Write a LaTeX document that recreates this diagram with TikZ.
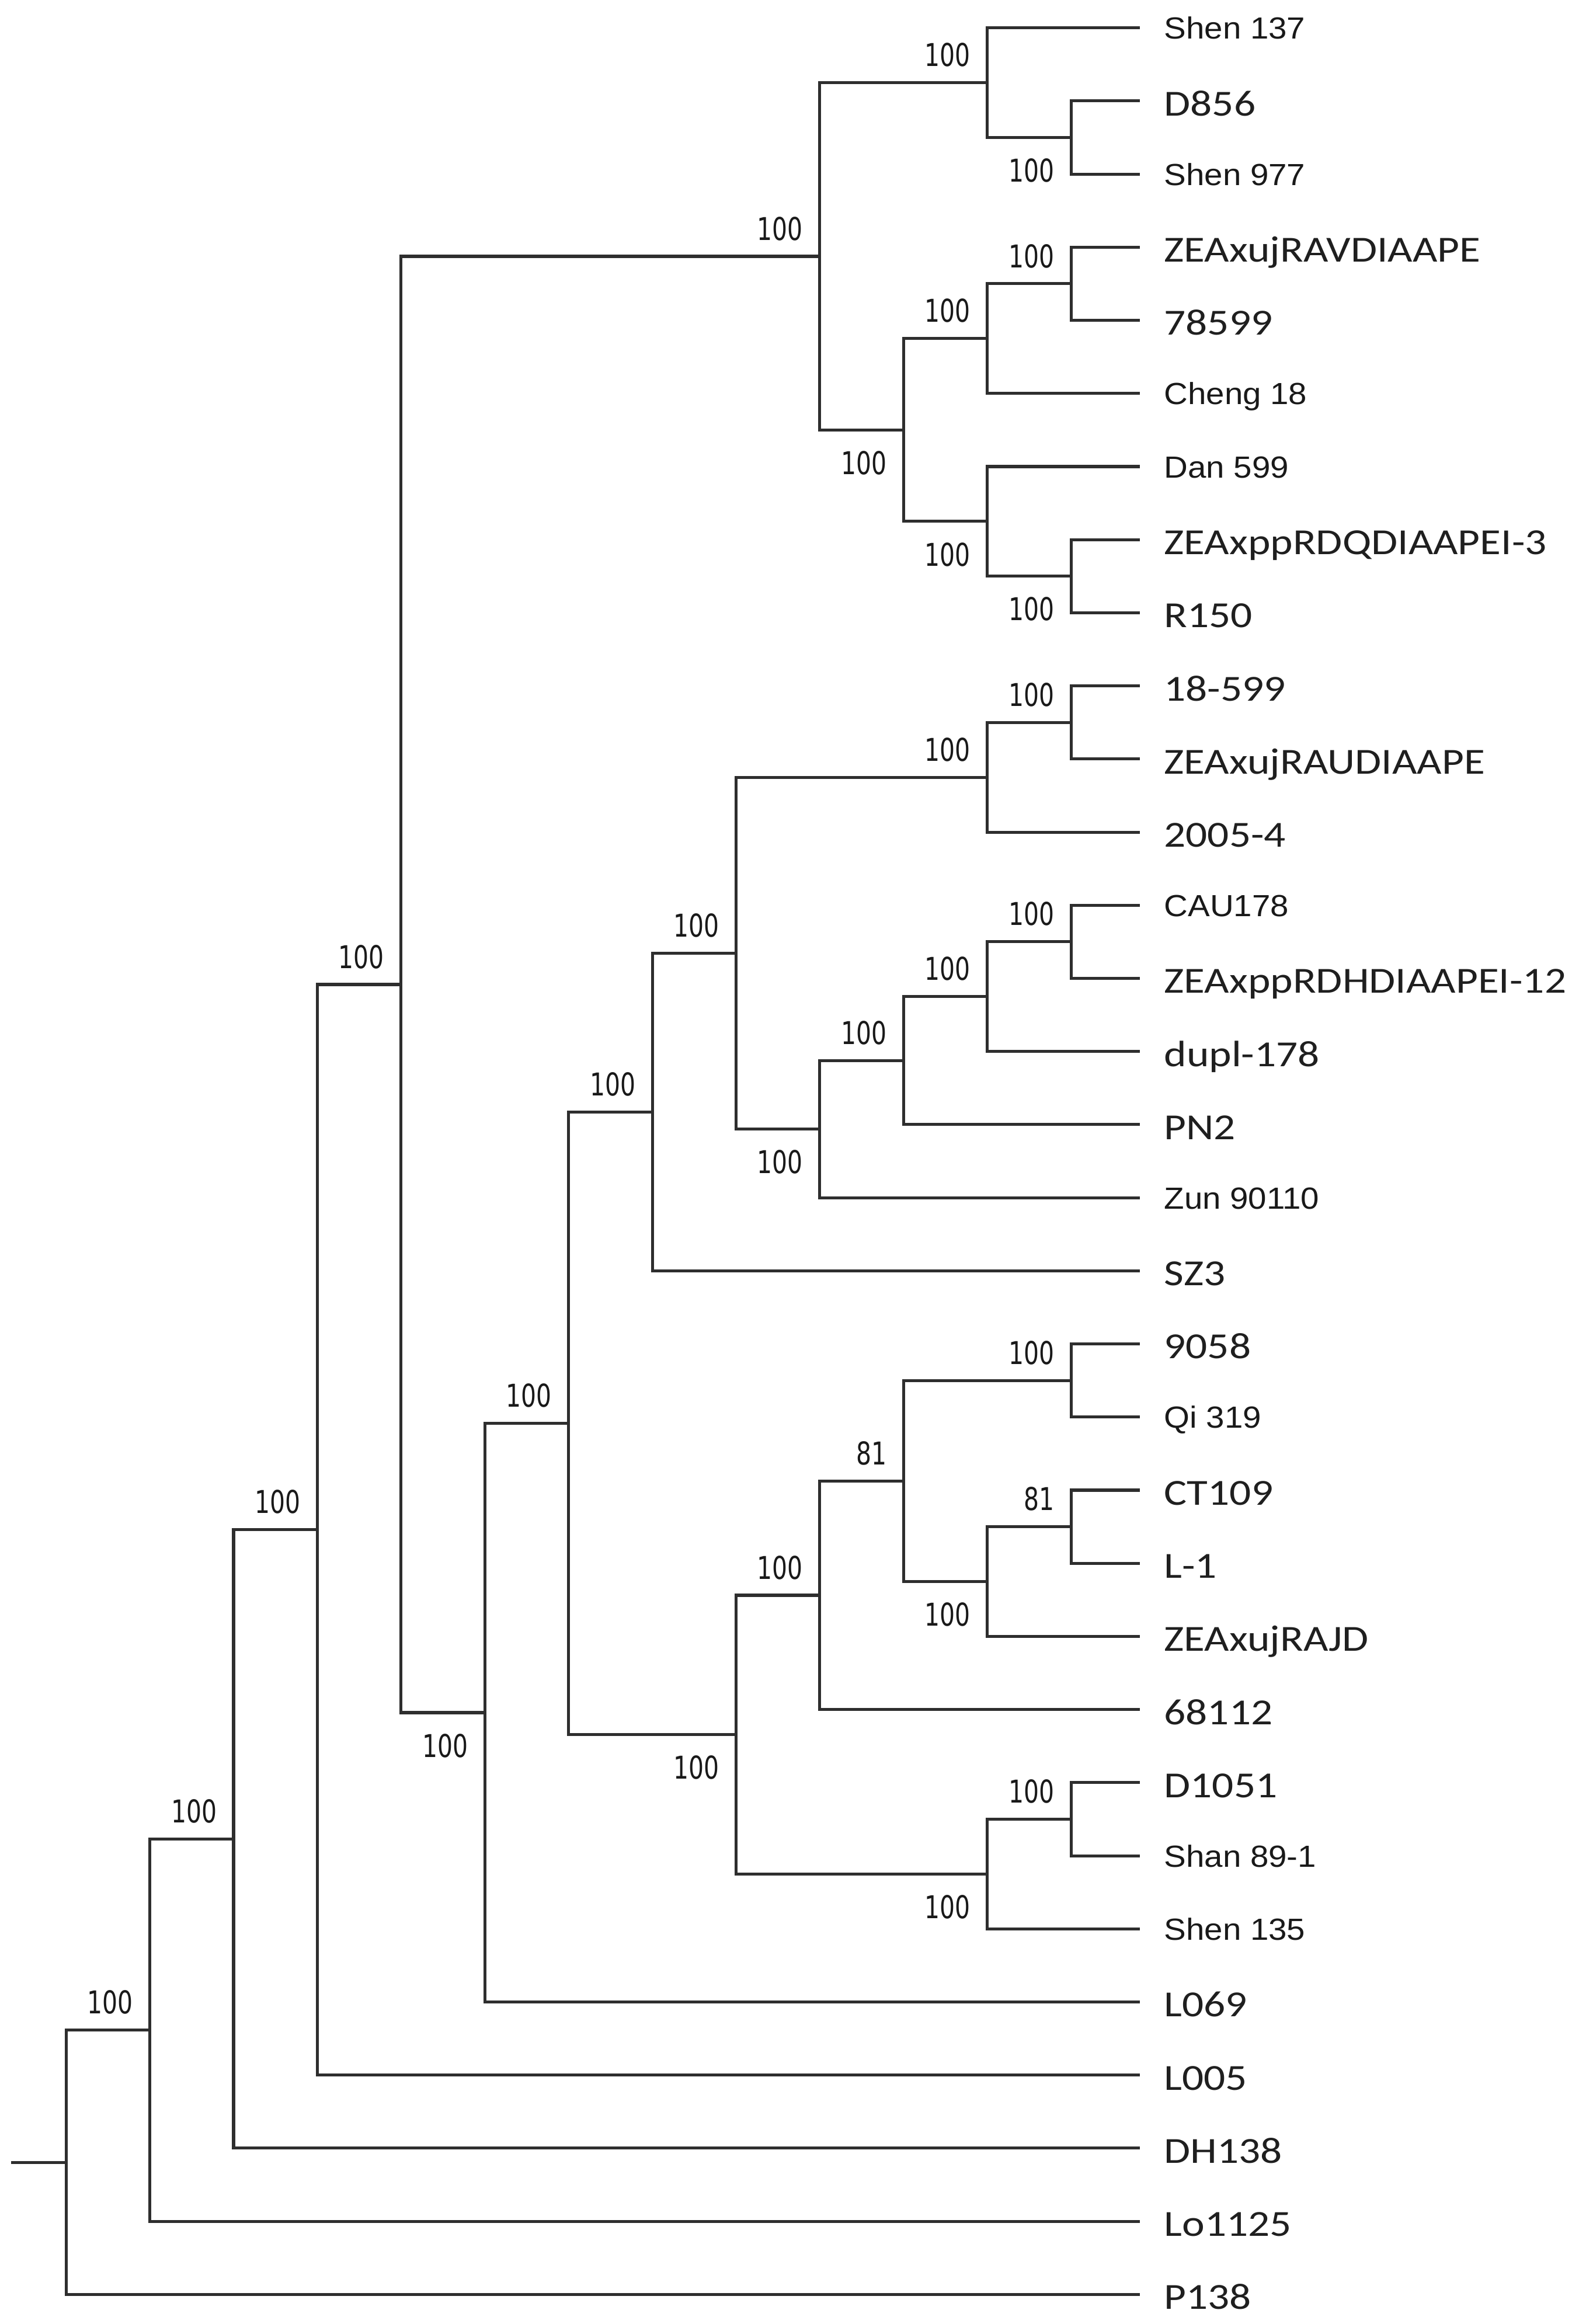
\documentclass[tikz,border=0pt]{standalone}
\usepackage{fontspec}
\newfontfamily\arialf[FakeStretch=1.08]{Liberation Sans}
\newfontfamily\calf[FakeStretch=1.165]{Carlito}
\newfontfamily\bsf[FakeStretch=0.76]{DejaVu Sans}
\begin{document}
\begin{tikzpicture}[x=0.5pt,y=-0.5pt,
  branch/.style={line width=1pt, draw=black!82, line join=miter},
  leafA/.style={anchor=base west, inner sep=0pt, text=black!90, font=\arialf\fontsize{10.3}{12}\selectfont},
  leafC/.style={anchor=base west, inner sep=0pt, text=black!88, font=\calf\fontsize{12.4}{14}\selectfont},
  bs/.style={anchor=base east, inner sep=0pt, text=black!90, font=\bsf\fontsize{10.6}{12}\selectfont}]
\useasboundingbox (0,0) rectangle (1065,1568);
% internal nodes
\coordinate (S)    at (7.5,1458.88);
\coordinate (R)    at (44.6,1458.88);
\coordinate (n1)   at (101.1,1369.73);
\coordinate (n2)   at (157.6,1240.76);
\coordinate (n3)   at (214.1,1032.14);
\coordinate (n4)   at (270.6,664.24);
\coordinate (nB)   at (327.1,1155.51);
\coordinate (nC)   at (383.6,960.31);
\coordinate (nD)   at (440.1,750.27);
\coordinate (nF)   at (496.6,643.13);
\coordinate (nE)   at (496.6,1170.35);
\coordinate (nA)   at (553.1,172.96);
\coordinate (nH)   at (553.1,761.83);
\coordinate (nK)   at (553.1,1076.31);
\coordinate (nA2)  at (609.6,290.11);
\coordinate (nI)   at (609.6,715.59);
\coordinate (nM)   at (609.6,999.23);
\coordinate (nA1)  at (666.1,55.8);
\coordinate (nB1)  at (666.1,228.45);
\coordinate (nB2)  at (666.1,351.78);
\coordinate (nG)   at (666.1,524.43);
\coordinate (nJ)   at (666.1,672.42);
\coordinate (nN)   at (666.1,1067.06);
\coordinate (nL)   at (666.1,1264.38);
\coordinate (nA1b) at (722.6,92.8);
\coordinate (nB1a) at (722.6,191.45);
\coordinate (nB2b) at (722.6,388.78);
\coordinate (nG1)  at (722.6,487.44);
\coordinate (nJ1)  at (722.6,635.43);
\coordinate (nM1)  at (722.6,931.4);
\coordinate (nN1)  at (722.6,1030.07);
\coordinate (nL1)  at (722.6,1227.38);
% leaf ends
\foreach \i/\yy in {0/18.8,1/68.13,2/117.46,3/166.79,4/216.12,5/265.45,6/314.78,7/364.11,8/413.44,9/462.77,10/512.1,11/561.43,12/610.76,13/660.09,14/709.42,15/758.75,16/808.08,17/857.41,18/906.74,19/956.07,20/1005.4,21/1054.73,22/1104.06,23/1153.39,24/1202.72,25/1252.05,26/1301.38,27/1350.71,28/1400.04,29/1449.37,30/1498.7,31/1548.03}
  \coordinate (e\i) at (769,\yy);
% leaf labels
\node[leafA] (t0)  at ([shift={(16,7.5)}]e0)  {Shen 137};
\node[leafC] (t1)  at ([shift={(16,10)}]e1)   {D856};
\node[leafA] (t2)  at ([shift={(16,7.5)}]e2)  {Shen 977};
\node[leafC] (t3)  at ([shift={(16,10)}]e3)   {ZEAxujRAVDIAAPE};
\node[leafC] (t4)  at ([shift={(16,10)}]e4)   {78599};
\node[leafA] (t5)  at ([shift={(16,7.5)}]e5)  {Cheng 18};
\node[leafA] (t6)  at ([shift={(16,7.5)}]e6)  {Dan 599};
\node[leafC] (t7)  at ([shift={(16,10)}]e7)   {ZEAxppRDQDIAAPEI-3};
\node[leafC] (t8)  at ([shift={(16,10)}]e8)   {R150};
\node[leafC] (t9)  at ([shift={(16,10)}]e9)   {18-599};
\node[leafC] (t10) at ([shift={(16,10)}]e10)  {ZEAxujRAUDIAAPE};
\node[leafC] (t11) at ([shift={(16,10)}]e11)  {2005-4};
\node[leafA] (t12) at ([shift={(16,7.5)}]e12) {CAU178};
\node[leafC] (t13) at ([shift={(16,10)}]e13)  {ZEAxppRDHDIAAPEI-12};
\node[leafC] (t14) at ([shift={(16,10)}]e14)  {dupl-178};
\node[leafC] (t15) at ([shift={(16,10)}]e15)  {PN2};
\node[leafA] (t16) at ([shift={(16,7.5)}]e16) {Zun 90110};
\node[leafC] (t17) at ([shift={(16,10)}]e17)  {SZ3};
\node[leafC] (t18) at ([shift={(16,10)}]e18)  {9058};
\node[leafA] (t19) at ([shift={(16,7.5)}]e19) {Qi 319};
\node[leafC] (t20) at ([shift={(16,10)}]e20)  {CT109};
\node[leafC] (t21) at ([shift={(16,10)}]e21)  {L-1};
\node[leafC] (t22) at ([shift={(16,10)}]e22)  {ZEAxujRAJD};
\node[leafC] (t23) at ([shift={(16,10)}]e23)  {68112};
\node[leafC] (t24) at ([shift={(16,10)}]e24)  {D1051};
\node[leafA] (t25) at ([shift={(16,7.5)}]e25) {Shan 89-1};
\node[leafA] (t26) at ([shift={(16,7.5)}]e26) {Shen 135};
\node[leafC] (t27) at ([shift={(16,10)}]e27)  {L069};
\node[leafC] (t28) at ([shift={(16,10)}]e28)  {L005};
\node[leafC] (t29) at ([shift={(16,10)}]e29)  {DH138};
\node[leafC] (t30) at ([shift={(16,10)}]e30)  {Lo1125};
\node[leafC] (t31) at ([shift={(16,10)}]e31)  {P138};
% branches
\draw[branch] (S) -- (R);
\draw[branch] (R) |- (n1) (R) |- (e31);
\draw[branch] (n1) |- (n2) (n1) |- (e30);
\draw[branch] (n2) |- (n3) (n2) |- (e29);
\draw[branch] (n3) |- (n4) (n3) |- (e28);
\draw[branch] (n4) |- (nA) (n4) |- (nB);
\draw[branch] (nA) |- (nA1) (nA) |- (nA2);
\draw[branch] (nA1) |- (e0) (nA1) |- (nA1b);
\draw[branch] (nA1b) |- (e1) (nA1b) |- (e2);
\draw[branch] (nA2) |- (nB1) (nA2) |- (nB2);
\draw[branch] (nB1) |- (nB1a) (nB1) |- (e5);
\draw[branch] (nB1a) |- (e3) (nB1a) |- (e4);
\draw[branch] (nB2) |- (e6) (nB2) |- (nB2b);
\draw[branch] (nB2b) |- (e7) (nB2b) |- (e8);
\draw[branch] (nB) |- (nC) (nB) |- (e27);
\draw[branch] (nC) |- (nD) (nC) |- (nE);
\draw[branch] (nD) |- (nF) (nD) |- (e17);
\draw[branch] (nF) |- (nG) (nF) |- (nH);
\draw[branch] (nG) |- (nG1) (nG) |- (e11);
\draw[branch] (nG1) |- (e9) (nG1) |- (e10);
\draw[branch] (nH) |- (nI) (nH) |- (e16);
\draw[branch] (nI) |- (nJ) (nI) |- (e15);
\draw[branch] (nJ) |- (nJ1) (nJ) |- (e14);
\draw[branch] (nJ1) |- (e12) (nJ1) |- (e13);
\draw[branch] (nE) |- (nK) (nE) |- (nL);
\draw[branch] (nK) |- (nM) (nK) |- (e23);
\draw[branch] (nM) |- (nM1) (nM) |- (nN);
\draw[branch] (nM1) |- (e18) (nM1) |- (e19);
\draw[branch] (nN) |- (nN1) (nN) |- (e22);
\draw[branch] (nN1) |- (e20) (nN1) |- (e21);
\draw[branch] (nL) |- (nL1) (nL) |- (e26);
\draw[branch] (nL1) |- (e24) (nL1) |- (e25);
% bootstrap values (above: upper child, below: lower child)
\node[bs] (b1)   at ([shift={(-11,-11)}]n1)   {100};
\node[bs] (b2)   at ([shift={(-11,-11)}]n2)   {100};
\node[bs] (b3)   at ([shift={(-11,-11)}]n3)   {100};
\node[bs] (b4)   at ([shift={(-11,-11)}]n4)   {100};
\node[bs] (bA)   at ([shift={(-11,-11)}]nA)   {100};
\node[bs] (bA1)  at ([shift={(-11,-11)}]nA1)  {100};
\node[bs] (bA1b) at ([shift={(-11,30)}]nA1b)  {100};
\node[bs] (bA2)  at ([shift={(-11,30)}]nA2)   {100};
\node[bs] (bB1)  at ([shift={(-11,-11)}]nB1)  {100};
\node[bs] (bB1a) at ([shift={(-11,-11)}]nB1a) {100};
\node[bs] (bB2)  at ([shift={(-11,30)}]nB2)   {100};
\node[bs] (bB2b) at ([shift={(-11,30)}]nB2b)  {100};
\node[bs] (bB)   at ([shift={(-11,30)}]nB)    {100};
\node[bs] (bC)   at ([shift={(-11,-11)}]nC)   {100};
\node[bs] (bD)   at ([shift={(-11,-11)}]nD)   {100};
\node[bs] (bF)   at ([shift={(-11,-11)}]nF)   {100};
\node[bs] (bG)   at ([shift={(-11,-11)}]nG)   {100};
\node[bs] (bG1)  at ([shift={(-11,-11)}]nG1)  {100};
\node[bs] (bH)   at ([shift={(-11,30)}]nH)    {100};
\node[bs] (bI)   at ([shift={(-11,-11)}]nI)   {100};
\node[bs] (bJ)   at ([shift={(-11,-11)}]nJ)   {100};
\node[bs] (bJ1)  at ([shift={(-11,-11)}]nJ1)  {100};
\node[bs] (bE)   at ([shift={(-11,30)}]nE)    {100};
\node[bs] (bK)   at ([shift={(-11,-11)}]nK)   {100};
\node[bs] (bM)   at ([shift={(-11,-11)}]nM)   {81};
\node[bs] (bM1)  at ([shift={(-11,-11)}]nM1)  {100};
\node[bs] (bN)   at ([shift={(-11,30)}]nN)    {100};
\node[bs] (bN1)  at ([shift={(-11,-11)}]nN1)  {81};
\node[bs] (bL)   at ([shift={(-11,30)}]nL)    {100};
\node[bs] (bL1)  at ([shift={(-11,-11)}]nL1)  {100};
\end{tikzpicture}
\end{document}
